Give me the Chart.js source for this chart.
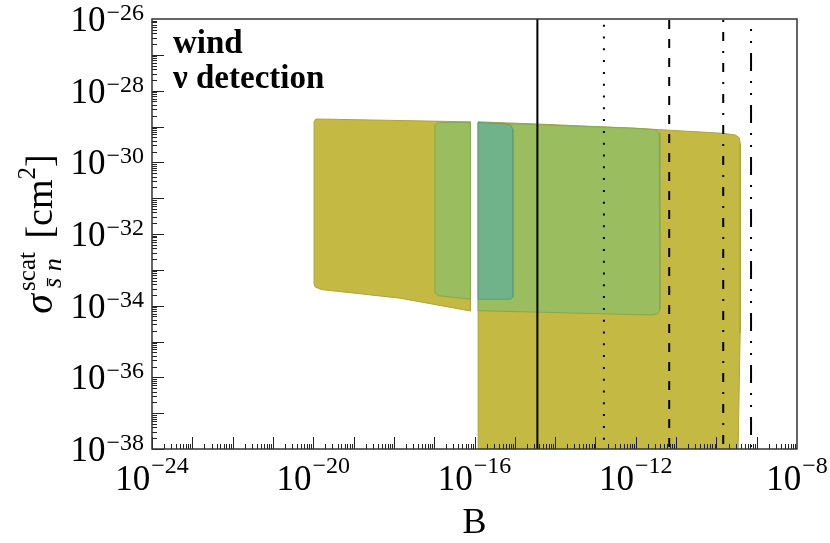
<!DOCTYPE html>
<html>
<head>
<meta charset="utf-8">
<script src="https://cdn.jsdelivr.net/npm/chart.js@4.4.1/dist/chart.umd.min.js"></script>
<style>
  html, body { margin: 0; padding: 0; background: #fff; }
</style>
</head>
<body>
<canvas id="chart" width="830" height="543"></canvas>
<script>
// all values are log10
const xTickExps = [-24, -20, -16, -12, -8];
const yTickExps = [-26, -28, -30, -32, -34, -36, -38];

// olive region, part left of the gap
const oliveLeftX = [-19.98, -19.93, -16.10, -16.10, -17.85, -19.80, -19.95, -19.98, -19.98];
const oliveLeftY = [-28.86, -28.79, -28.87, -34.15, -33.79, -33.55, -33.48, -33.40, -28.86];
// olive region, right of the gap (runs off the bottom)
const oliveRightX = [-15.91, -14.45, -12.00, -9.84, -9.52, -9.43, -9.41, -9.41, -9.46, -9.47, -15.91, -15.91];
const oliveRightY = [-28.87, -28.93, -29.05, -29.19, -29.24, -29.32, -29.48, -34.76, -37.97, -39.00, -39.00, -28.87];
// light green region
const greenLeftX = [-16.98, -16.90, -16.10, -16.10, -16.90, -16.98, -16.98];
const greenLeftY = [-28.96, -28.89, -28.89, -33.82, -33.72, -33.64, -28.96];
const greenRightX = [-15.91, -12.00, -11.52, -11.42, -11.40, -11.40, -11.45, -11.60, -15.91, -15.91];
const greenRightY = [-28.89, -29.05, -29.09, -29.17, -29.30, -34.10, -34.22, -34.26, -34.14, -28.89];
// teal region
const tealX = [-15.91, -15.25, -15.09, -15.05, -15.05, -15.10, -15.91, -15.91];
const tealY = [-28.89, -28.92, -28.97, -29.08, -33.77, -33.82, -33.82, -28.89];

// vertical limits
const limitX = [-14.44, -12.79, -11.17, -9.83, -9.14];
const limitDash = [[], [2, 9.8], [9, 10], [9, 10, 2, 10], [18, 10, 2, 10, 2, 10]];

const serif = "'Liberation Serif', 'Times New Roman', serif";

function pts(xs, ys) {
  return xs.map((x, i) => ({x: Math.pow(10, x), y: Math.pow(10, ys[i])}));
}

function region(xs, ys, fillColor, edgeColor, order) {
  return {
    data: pts(xs, ys),
    showLine: true,
    pointRadius: 0,
    borderWidth: 1,
    borderColor: edgeColor,
    backgroundColor: fillColor,
    fill: 'shape',
    tension: 0,
    order: order
  };
}

const datasets = [];
limitX.forEach((x, i) => {
  datasets.push({
    data: pts([x, x], [-25.5, -38.5]),
    showLine: true,
    pointRadius: 0,
    borderWidth: 2,
    borderColor: '#000',
    borderDash: limitDash[i],
    fill: false,
    order: 0
  });
});
datasets.push(region(tealX, tealY, '#70b38a', '#5e9e7a', 1));
datasets.push(region(greenLeftX, greenLeftY, '#9abd5f', '#86a851', 2));
datasets.push(region(greenRightX, greenRightY, '#9abd5f', '#86a851', 2));
datasets.push(region(oliveLeftX, oliveLeftY, '#c4b943', '#ada43b', 3));
datasets.push(region(oliveRightX, oliveRightY, '#c4b943', '#ada43b', 3));

// frame, inward log ticks, labels and titles
const decor = {
  id: 'decor',
  afterDraw(chart) {
    const {ctx, chartArea: a, scales: {x, y}} = chart;
    ctx.save();

    ctx.strokeStyle = '#222';
    ctx.lineWidth = 1;
    ctx.beginPath();
    for (let d = Math.round(Math.log10(x.min)); d < Math.round(Math.log10(x.max)); d++) {
      for (let m = 1; m < 10; m++) {
        const px = Math.round(x.getPixelForValue(m * Math.pow(10, d))) + 0.5;
        const len = m === 1 ? 12 : 5;
        ctx.moveTo(px, a.bottom);
        ctx.lineTo(px, a.bottom - len);
      }
    }
    for (let d = Math.round(Math.log10(y.min)); d < Math.round(Math.log10(y.max)); d++) {
      for (let m = 1; m < 10; m++) {
        const py = Math.round(y.getPixelForValue(m * Math.pow(10, d))) + 0.5;
        const len = m === 1 ? 12 : 5;
        ctx.moveTo(a.left, py);
        ctx.lineTo(a.left + len, py);
      }
    }
    ctx.stroke();

    ctx.strokeStyle = '#333';
    ctx.lineWidth = 1.5;
    ctx.strokeRect(a.left, a.top, a.right - a.left, a.bottom - a.top);

    ctx.fillStyle = '#000';
    ctx.textAlign = 'left';
    ctx.textBaseline = 'alphabetic';
    const big = '35px ' + serif;
    const small = '24px ' + serif;

    xTickExps.forEach(e => {
      const px = x.getPixelForValue(Math.pow(10, e));
      const exp = '\u2212' + Math.abs(e);
      ctx.font = big;
      const w1 = ctx.measureText('10').width;
      ctx.font = small;
      const w2 = ctx.measureText(exp).width;
      const left = px - (w1 + 1 + w2) / 2;
      ctx.font = big;
      ctx.fillText('10', left, a.bottom + 41);
      ctx.font = small;
      ctx.fillText(exp, left + w1 + 1, a.bottom + 24);
    });

    yTickExps.forEach(e => {
      const py = y.getPixelForValue(Math.pow(10, e));
      const exp = '\u2212' + Math.abs(e);
      ctx.font = small;
      const w2 = ctx.measureText(exp).width;
      ctx.font = big;
      const w1 = ctx.measureText('10').width;
      const right = a.left - 8;
      ctx.fillText('10', right - w2 - 1 - w1, py + 12);
      ctx.font = small;
      ctx.fillText(exp, right - w2, py + 1);
    });

    // x title
    ctx.font = '36px ' + serif;
    ctx.textAlign = 'center';
    ctx.fillText('B', (a.left + a.right) / 2, 533);

    // in-plot label
    ctx.textAlign = 'left';
    ctx.font = 'bold 33px ' + serif;
    ctx.fillText('wind', a.left + 21, 53);
    ctx.fillText('\u03bd detection', a.left + 21, 88);

    // y title, rotated
    const mainF = '38px ' + serif;
    const italF = 'italic 40px ' + serif;
    const supF = '25px ' + serif;
    const subF = 'italic 26px ' + serif;
    ctx.font = italF;
    const wSig = ctx.measureText('\u03c3').width;
    ctx.font = supF;
    const wScat = ctx.measureText('scat').width;
    ctx.font = subF;
    const wSub = ctx.measureText('s\u0304 n').width;
    ctx.font = mainF;
    const wOpen = ctx.measureText(' [cm').width;
    const wClose = ctx.measureText(']').width;
    ctx.font = supF;
    const wTwo = ctx.measureText('2').width;
    const total = wSig + 3 + Math.max(wScat, wSub) + 4 + wOpen + wTwo + wClose;

    ctx.translate(52, (a.top + a.bottom) / 2);
    ctx.rotate(-Math.PI / 2);
    let tx = -total / 2;
    ctx.font = italF;
    ctx.fillText('\u03c3', tx, 0);
    tx += wSig + 3;
    ctx.font = supF;
    ctx.fillText('scat', tx, -17);
    ctx.font = subF;
    ctx.fillText('s\u0304 n', tx + 3, 9);
    tx += Math.max(wScat, wSub) + 4;
    ctx.font = mainF;
    ctx.fillText(' [cm', tx, 0);
    tx += wOpen;
    ctx.font = supF;
    ctx.fillText('2', tx, -17);
    tx += wTwo;
    ctx.font = mainF;
    ctx.fillText(']', tx, 0);

    ctx.restore();
  }
};

new Chart(document.getElementById('chart'), {
  type: 'scatter',
  data: { datasets: datasets },
  options: {
    responsive: false,
    animation: false,
    devicePixelRatio: 1,
    layout: { padding: { left: 152, top: 19, right: 33, bottom: 94 } },
    plugins: { legend: { display: false }, tooltip: { enabled: false } },
    scales: {
      x: { type: 'logarithmic', display: false, min: 1e-24, max: 1e-8 },
      y: { type: 'logarithmic', display: false, min: 1e-38, max: 1e-26 }
    }
  },
  plugins: [decor]
});
</script>
</body>
</html>
